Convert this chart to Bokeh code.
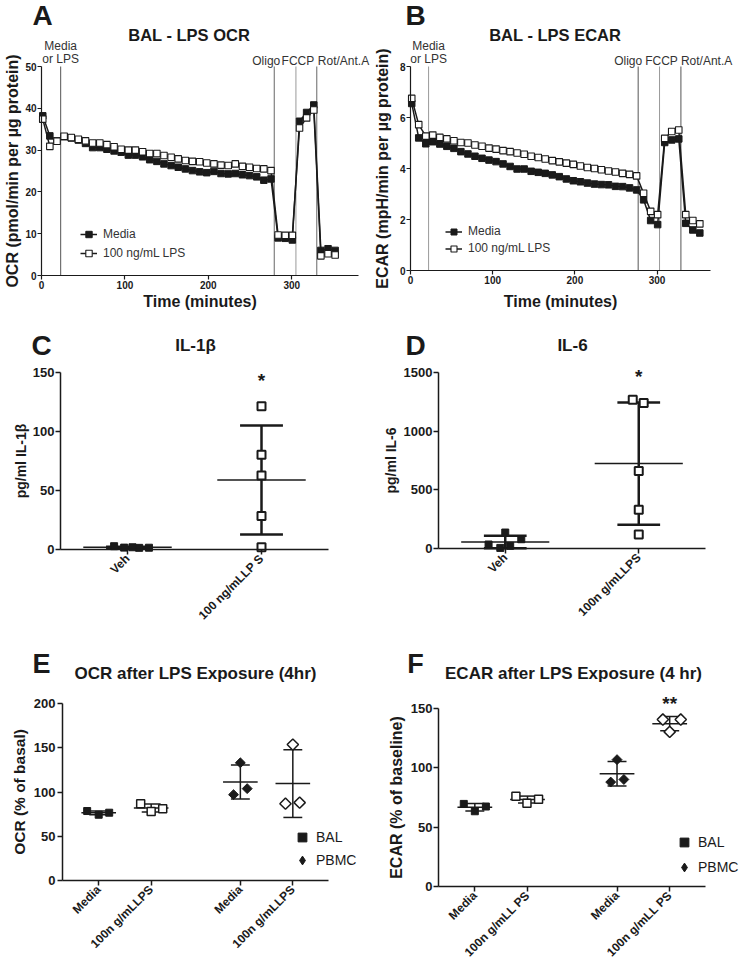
import math
import numpy as np
from bokeh.plotting import figure
from bokeh.models import Range1d, Label, Legend, LegendItem, FixedTicker
from bokeh.layouts import row, column
from bokeh.embed import file_html
from bokeh.resources import INLINE

FONT = "Liberation Sans"
INK = "#1a1a1a"

# ---------------- data ----------------
time_min = [1.5, 10.0, 18.6, 27.1, 35.7, 44.2, 52.8, 61.3, 69.9, 78.4, 87.0, 95.5, 104.1,
            112.6, 121.2, 129.7, 138.3, 146.8, 155.4, 163.9, 172.5, 181.0, 189.6, 198.1,
            206.7, 215.2, 223.8, 232.3, 240.9, 249.4, 258.0, 266.5, 275.1, 283.6, 292.2,
            300.7, 309.3, 317.8, 326.4, 334.9, 343.5, 352.0]
ocr_media = [38.2, 33.4, 32.2,
             33.2, 32.9, 32.4, 31.6, 30.6, 30.6, 30.2, 29.8, 29.5, 28.8, 28.8, 28.4, 27.7, 27.3,
             26.7, 26.3, 25.9, 25.5, 25.1, 24.8, 24.6, 24.9, 24.4, 24.3, 24.4, 24.1, 23.9, 23.6, 22.8, 23.1,
             9.0, 8.9, 8.5, 36.9, 39.0, 40.8, 6.0, 6.4, 6.0]
ocr_lps = [37.4, 30.9, 32.1,
           33.3, 33.0, 32.6, 32.2, 31.7, 31.7, 31.3, 30.8, 30.2, 30.0, 30.0, 29.6, 29.2, 29.2,
           28.7, 28.3, 27.9, 27.5, 27.3, 27.2, 26.9, 26.7, 26.4, 26.3, 26.7, 26.1, 25.9, 25.6, 25.5, 25.1,
           9.7, 9.6, 9.6, 35.3, 37.7, 39.6, 4.7, 5.2, 4.9]
ecar_media = [6.55, 5.20, 4.97,
              5.05, 4.96, 4.87, 4.79, 4.66, 4.57, 4.48, 4.40, 4.33, 4.27, 4.18, 4.08, 3.98, 3.98, 3.89,
              3.85, 3.81, 3.75, 3.68, 3.59, 3.52, 3.48, 3.43, 3.39, 3.37, 3.36, 3.30, 3.29, 3.24, 3.16,
              2.77, 1.96, 1.80, 5.02, 5.12, 5.16, 1.85, 1.59, 1.47]
ecar_lps = [6.75, 5.72, 5.27,
            5.31, 5.22, 5.16, 5.09, 5.02, 5.00, 4.92, 4.87, 4.80, 4.76, 4.70, 4.66, 4.61, 4.56,
            4.48, 4.43, 4.37, 4.31, 4.26, 4.21, 4.16, 4.10, 4.04, 4.00, 3.95, 3.90, 3.86, 3.81, 3.77, 3.71,
            3.03, 2.32, 2.19, 5.18, 5.45, 5.51, 2.19, 1.96, 1.83]
series_names = ["Media", "100 ng/mL LPS"]
ocr_events = [23, 279, 305, 330]
ecar_events = [22, 277, 303, 329]

groups_c = ["Veh", "100 ng/mLLP S"]
groups_d = ["Veh", "100n g/mLLPS"]
il1b_veh = [2.8, 1.6, 1.9, 1.4, 1.5]
il1b_lps = [121.3, 80.4, 62.8, 28.3, 2.0]
il6_veh = [34, 5, 136, 23, 79]
il6_lps = [1268, 1240, 660, 331, 119]

groups_e = ["Media", "100n g/mLLPS", "Media", "100n g/mLLPS"]
groups_f = ["Media", "100n g/mLL PS", "Media", "100n g/mLL PS"]
cell_names = ["BAL", "PBMC"]
ocr_bal_media = [78.5, 74.3, 76.6]
ocr_bal_lps = [86.8, 78.0, 81.0]
ocr_pbmc_media = [133.0, 97.0, 103.8]
ocr_pbmc_lps = [153.6, 86.8, 88.0]
ecar_bal_media = [69.6, 63.4, 67.4]
ecar_bal_lps = [76.0, 70.2, 73.6]
ecar_pbmc_media = [106.9, 88.0, 90.2]
ecar_pbmc_lps = [140.7, 130.3, 140.7]

# ---------------- layout (page pixels) ----------------
# fig: top-left of the figure on the page; o: pixel of the axes origin (x0, y0);
# k: pixels per data unit; xb/yb: axis extents in data units
GEOM = {
    "A": dict(fig=(0, 0), w=370, h=312, o=(41, 275), k=(317 / 380, 209 / 50), xb=(0, 380), yb=(0, 50)),
    "B": dict(fig=(370, 0), w=370, h=312, o=(410, 270), k=(300 / 365, 204 / 8), xb=(0, 365), yb=(0, 8)),
    "C": dict(fig=(0, 312), w=370, h=324, o=(60, 549), k=(134, 177 / 150), xb=(0, 2), yb=(0, 150)),
    "D": dict(fig=(370, 312), w=370, h=324, o=(438, 548), k=(133.5, 176 / 1500), xb=(0, 2), yb=(0, 1500)),
    "E": dict(fig=(0, 636), w=370, h=338, o=(62, 880), k=(266 / 5.07, 177 / 200), xb=(0.31, 5.38), yb=(0, 200)),
    "F": dict(fig=(370, 636), w=370, h=338, o=(438, 886), k=(267 / 5.07, 178 / 150), xb=(0.31, 5.38), yb=(0, 150)),
}
POS2 = [0.5, 1.5]
POS4 = [1.0, 2.0, 3.7, 4.7]


def to_data(g, px, py):
    ox, oy = g["o"]
    kx, ky = g["k"]
    return g["xb"][0] + (px - ox) / kx, g["yb"][0] + (oy - py) / ky


def make_fig(g, alw=1.5, tick=5):
    fx, fy = g["fig"]
    x_start, y_end = to_data(g, fx, fy)
    x_end, y_start = to_data(g, fx + g["w"], fy + g["h"])
    p = figure(width=g["w"], height=g["h"], x_range=Range1d(x_start, x_end),
               y_range=Range1d(y_start, y_end), output_backend="svg", toolbar_location=None,
               title=None, min_border_left=0, min_border_right=0, min_border_top=0, min_border_bottom=0)
    p.outline_line_color = None
    p.xgrid.visible = False
    p.ygrid.visible = False
    p.background_fill_color = "white"
    p.border_fill_color = "white"
    p.xaxis.fixed_location = g["yb"][0]
    p.yaxis.fixed_location = g["xb"][0]
    p.xaxis.bounds = g["xb"]
    p.yaxis.bounds = g["yb"]
    for ax in [p.xaxis[0], p.yaxis[0]]:
        ax.axis_line_color = INK
        ax.axis_line_width = alw
        ax.major_tick_line_color = INK
        ax.major_tick_line_width = alw
        ax.major_tick_in = 0
        ax.major_tick_out = tick
        ax.minor_tick_line_color = None
        ax.major_label_text_font = FONT
        ax.major_label_text_font_style = "bold"
        ax.major_label_text_color = INK
        ax.axis_label_text_font = FONT
        ax.axis_label_text_font_style = "bold"
        ax.axis_label_text_color = INK
    return p


def ptext(p, g, px, py, text, size, bold=True, align="center", x=None, x_offset=0, color=INK):
    dx, dy = to_data(g, px, py)
    if x is not None:
        dx = x
    p.add_layout(Label(x=dx, y=dy, text=text, text_font=FONT, text_font_size=f"{size}px",
                       text_font_style="bold" if bold else "normal", text_align=align,
                       text_baseline="middle", text_color=color, x_offset=x_offset))


def legend_loc(g, px_left, py_bottom):
    fx, fy = g["fig"]
    return (px_left - fx, fy + g["h"] - py_bottom)


def dot_group(p, pos, vals, offs, marker, size, fill, lw, mean_half, cap_half, mean_w, sd_w, angle=0.0):
    m = float(np.mean(vals))
    s = float(np.std(vals, ddof=1))
    p.segment(x0=[pos - mean_half], y0=[m], x1=[pos + mean_half], y1=[m], line_color=INK, line_width=mean_w)
    p.segment(x0=[pos, pos - cap_half, pos - cap_half], y0=[m - s, m + s, m - s],
              x1=[pos, pos + cap_half, pos + cap_half], y1=[m + s, m + s, m - s],
              line_color=INK, line_width=sd_w)
    return p.scatter(x=[pos + o for o in offs], y=vals, marker=marker, size=size, fill_color=fill,
                     line_color=INK, line_width=lw, angle=angle)


def seahorse_panel(key, letter, letter_x, title, title_x, ylabel, media, lps, events, ev_colors, yticks,
                   leg_px, leg_gh, leg_sp, ev_offsets, ylab_standoff, xlab_standoff):
    g = GEOM[key]
    p = make_fig(g, alw=1.2, tick=4)
    p.xaxis.ticker = FixedTicker(ticks=[0, 100, 200, 300])
    p.yaxis.ticker = FixedTicker(ticks=yticks)
    for ax in [p.xaxis[0], p.yaxis[0]]:
        ax.major_label_text_font_size = "10px"
        ax.major_label_standoff = 1
    p.xaxis.axis_label = "Time (minutes)"
    p.yaxis.axis_label = ylabel
    p.xaxis.axis_label_text_font_size = "16px"
    p.yaxis.axis_label_text_font_size = "16px"
    p.yaxis.axis_label_standoff = ylab_standoff
    p.xaxis.axis_label_standoff = xlab_standoff
    ymax = g["yb"][1]
    p.segment(x0=events, y0=[0] * len(events), x1=events, y1=[ymax] * len(events),
              line_color=ev_colors, line_width=1)
    rml = p.line(time_min, media, line_color=INK, line_width=1.5)
    rmp = p.scatter(time_min, media, marker="square", size=6.5, fill_color=INK, line_color=INK)
    rll = p.line(time_min, lps, line_color=INK, line_width=1.5)
    rlp = p.scatter(time_min, lps, marker="square", size=6.5, fill_color="white", line_color=INK, line_width=1.1)
    leg = Legend(items=[LegendItem(label=series_names[0], renderers=[rml, rmp]),
                        LegendItem(label=series_names[1], renderers=[rll, rlp])],
                 location=legend_loc(g, *leg_px), padding=0, margin=0, spacing=leg_sp, glyph_width=17,
                 glyph_height=leg_gh, label_height=leg_gh, label_standoff=6,
                 label_text_font=FONT, label_text_font_size="12px", label_text_color="#333333",
                 border_line_color=None, background_fill_alpha=0)
    p.add_layout(leg)
    ptext(p, g, 0, 45, "Media", 12, bold=False, x=events[0], color="#333333")
    ptext(p, g, 0, 58, "or LPS", 12, bold=False, x=events[0], color="#333333")
    ptext(p, g, 0, 60, "Oligo", 12, bold=False, x=events[1], x_offset=ev_offsets[0], color="#333333")
    ptext(p, g, 0, 60, "FCCP", 12, bold=False, x=events[2], x_offset=ev_offsets[1], color="#333333")
    ptext(p, g, 0, 60, "Rot/Ant.A", 12, bold=False, x=events[3], x_offset=ev_offsets[2], align="left",
          color="#333333")
    ptext(p, g, letter_x, 15, letter, 28)
    ptext(p, g, title_x, 34, title, 16.5)
    return p


# ---------------- A & B ----------------
pA = seahorse_panel("A", "A", 42, "BAL -  LPS OCR", 191, "OCR (pmol/min per µg protein)",
                    ocr_media, ocr_lps, ocr_events, ["#555555", "#666666", "#999999", "#666666"],
                    [0, 10, 20, 30, 40, 50], (80, 261), 16, 3, (-8, 2, 1), 1, 1)
pB = seahorse_panel("B", "B", 415, "BAL -  LPS ECAR", 557, "ECAR (mpH/min per µg protein)",
                    ecar_media, ecar_lps, ecar_events, ["#999999", "#555555", "#999999", "#555555"],
                    [0, 2, 4, 6, 8], (445, 255.5), 15, 2, (-10, 2, 0), 6, 6)


# ---------------- C & D ----------------
def cytokine_panel(key, letter, letter_x, title, title_x, ylabel, groups, veh, lps, veh_offs, lps_offs,
                   yticks, ylab_standoff, star_py):
    g = GEOM[key]
    p = make_fig(g, alw=1.5, tick=5)
    p.xaxis.ticker = FixedTicker(ticks=POS2)
    p.xaxis.major_label_overrides = {POS2[i]: groups[i] for i in range(2)}
    p.xaxis.major_label_orientation = math.pi / 4
    p.xaxis.major_label_text_font_size = "12px"
    p.yaxis.ticker = FixedTicker(ticks=yticks)
    p.yaxis.major_label_text_font_size = "13px"
    p.yaxis.major_label_standoff = 1
    p.xaxis.major_label_standoff = 2
    p.yaxis.axis_label = ylabel
    p.yaxis.axis_label_text_font_size = "14px"
    p.yaxis.axis_label_standoff = ylab_standoff
    dot_group(p, POS2[0], veh, veh_offs, "square", 7, INK, 1, 0.33, 0.16, 1.5, 2.5)
    dot_group(p, POS2[1], lps, lps_offs, "square", 8, "white", 2, 0.33, 0.16, 1.5, 2.5)
    ptext(p, g, letter_x, 345, letter, 28)
    ptext(p, g, title_x, 345, title, 17)
    ptext(p, g, 0, star_py, "*", 19, x=POS2[1])
    return p


pC = cytokine_panel("C", "C", 41, "IL-1β", 195, "pg/ml IL-1β", groups_c, il1b_veh, il1b_lps,
                    [-0.10, -0.025, 0.037, 0.087, 0.16], [0, 0, 0, 0, 0], [0, 50, 100, 150], 1, 380)
pD = cytokine_panel("D", "D", 415, "IL-6", 572, "pg/ml IL-6", groups_d, il6_veh, il6_lps,
                    [-0.125, -0.037, 0, 0.037, 0.12], [-0.045, 0.037, 0, 0, 0],
                    [0, 500, 1000, 1500], 2, 376)


# ---------------- E & F ----------------
def exposure_panel(key, letter, letter_x, title, title_x, ylabel, groups, data, offs, yticks, ylab_standoff,
                   lbl_standoff, leg_px, leg_sp):
    g = GEOM[key]
    p = make_fig(g, alw=1.5, tick=5)
    p.xaxis.ticker = FixedTicker(ticks=POS4)
    p.xaxis.major_label_overrides = {POS4[i]: groups[i] for i in range(4)}
    p.xaxis.major_label_orientation = math.pi / 4
    p.xaxis.major_label_text_font_size = "12px"
    p.xaxis.major_label_standoff = 2
    p.yaxis.ticker = FixedTicker(ticks=yticks)
    p.yaxis.major_label_text_font_size = "13px"
    p.yaxis.major_label_standoff = lbl_standoff
    p.yaxis.axis_label = ylabel
    p.yaxis.axis_label_text_font_size = "15.5px" if key == "E" else "16px"
    p.yaxis.axis_label_standoff = ylab_standoff
    styles = [("square", 7, INK, 1, 0.0), ("square", 8, "white", 1.5, 0.0),
              ("square", 7, INK, 1, math.pi / 4), ("square", 8, "white", 1.5, math.pi / 4)]
    rends = []
    for i in range(4):
        mk, sz, fill, lw, ang = styles[i]
        rends.append(dot_group(p, POS4[i], data[i], offs[i], mk, sz, fill, lw, 0.33, 0.18, 1.5, 1.5, ang))
    # legend key for the diamond series (legend glyphs are drawn unrotated); no visible point
    pbmc_key = p.scatter(x=np.array([np.nan]), y=np.array([np.nan]), marker="diamond", size=10,
                         fill_color=INK, line_color=INK)
    leg = Legend(items=[LegendItem(label=cell_names[0], renderers=[rends[0]]),
                        LegendItem(label=cell_names[1], renderers=[pbmc_key])],
                 location=legend_loc(g, *leg_px), padding=0, margin=0, spacing=leg_sp, glyph_width=22,
                 glyph_height=22, label_height=22, label_standoff=3,
                 label_text_font=FONT, label_text_font_size="14px", label_text_color=INK,
                 border_line_color=None, background_fill_alpha=0)
    p.add_layout(leg)
    ptext(p, g, letter_x, 663, letter, 27)
    ptext(p, g, title_x, 673, title, 17)
    return p


pE = exposure_panel("E", "E", 41, "OCR after LPS Exposure (4hr)", 195, "OCR (% of basal)", groups_e,
                    [ocr_bal_media, ocr_bal_lps, ocr_pbmc_media, ocr_pbmc_lps],
                    [[-0.22, 0, 0.2], [-0.2, 0, 0.22], [0, -0.13, 0.13], [0, -0.14, 0.13]],
                    [0, 50, 100, 150, 200], 3, 2, (291, 871), 1)
pF = exposure_panel("F", "F", 415, "ECAR after LPS Exposure (4 hr)", 573, "ECAR (% of baseline)", groups_f,
                    [ecar_bal_media, ecar_bal_lps, ecar_pbmc_media, ecar_pbmc_lps],
                    [[-0.21, 0, 0.21], [-0.22, -0.01, 0.21], [0, -0.12, 0.13], [-0.13, 0, 0.21]],
                    [0, 50, 100, 150], 3, 1, (673, 878), 3)
ptext(pF, GEOM["F"], 0, 703, "**", 19, x=POS4[3])

layout = column(row(pA, pB), row(pC, pD), row(pE, pF))
open("out.html", "w").write(file_html(layout, INLINE))
